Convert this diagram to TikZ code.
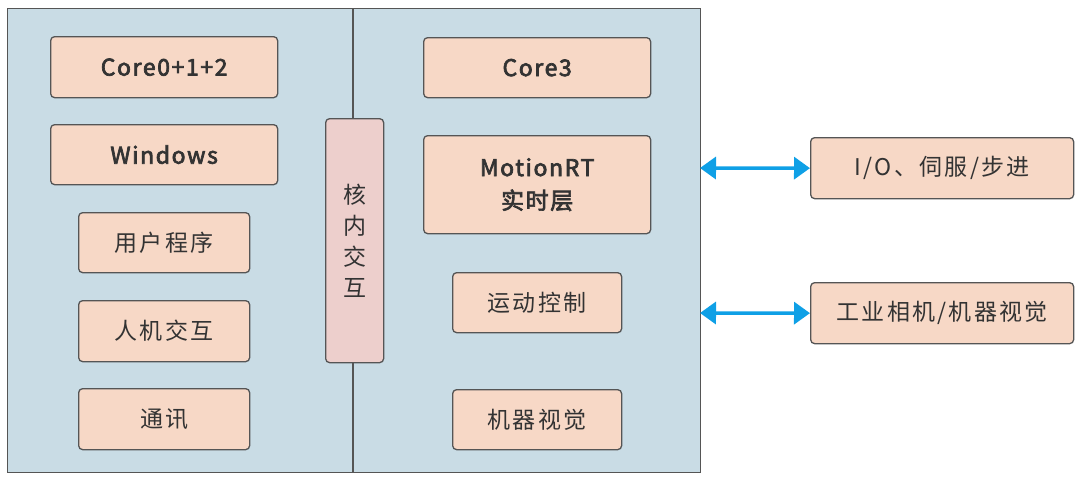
\documentclass[tikz,border=0pt]{standalone}
\usepackage{fontspec}
\setmainfont{Noto Sans CJK SC}
\usetikzlibrary{arrows.meta}
\definecolor{panel}{HTML}{C9DCE5}
\definecolor{boxfill}{HTML}{F7D8C6}
\definecolor{midfill}{HTML}{EDCFCC}
\definecolor{edge}{HTML}{555555}
\definecolor{txt}{HTML}{333333}
\definecolor{arrowblue}{HTML}{0FA0E6}
\tikzset{
  x=1pt,y=-1pt,
  blk/.style={draw=edge,line width=1.3pt,fill=boxfill,rounded corners=4pt,text=txt,font=\fontsize{23}{28}\selectfont\addfontfeatures{LetterSpace=10},align=center,inner sep=0pt},
  blkb/.style={blk,font=\fontsize{23}{33}\selectfont\addfontfeatures{LetterSpace=7,FakeBold=3}},
  link/.style={draw=arrowblue,line width=3.5pt,{Triangle[length=16pt,width=22pt]}-{Triangle[length=16pt,width=22pt]}},
}
\newcommand{\bx}[6]{\node[#1,minimum width=#4pt,minimum height=#5pt,anchor=north west] (#2) at (#3) {#6};}
\begin{document}
\begin{tikzpicture}
\useasboundingbox (0,0) rectangle (1080,480);
\node[draw=edge,line width=1.3pt,fill=panel,minimum width=693pt,minimum height=464pt,anchor=north west,inner sep=0pt] (panel) at (7,8) {};
\coordinate (divtop) at (353,8);
\coordinate (divbot) at (353,472);
\draw[edge,line width=1.3pt] (divtop) -- (divbot);
\bx{blkb}{c012}{50,36}{227}{61}{Core0+1+2}
\bx{blkb}{win}{50,124}{227}{60}{Windows}
\bx{blk}{user}{78,212}{171}{60}{用户程序}
\bx{blk}{hmi}{78,300}{171}{61}{人机交互}
\bx{blk}{comm}{78,388}{171}{61}{通讯}
\node[draw=edge,line width=1.3pt,fill=midfill,rounded corners=4pt,minimum width=58pt,minimum height=244pt,anchor=north west,inner sep=0pt,text=txt,font=\fontsize{23}{31}\selectfont,align=center] (ipc) at (325,118) {核\\内\\交\\互};
\bx{blkb}{c3}{423,37}{227}{60}{Core3}
\bx{blkb}{mrt}{423,135}{227}{98}{MotionRT\\实时层}
\bx{blk}{mc}{452,272}{169}{60}{运动控制}
\bx{blk}{mv}{452,389}{169}{60}{机器视觉}
\bx{blk}{io}{810,137}{263}{61}{I/O、伺服/步进}
\bx{blk}{cam}{810,282}{263}{61}{工业相机/机器视觉}
\coordinate (a1) at (700,168);
\coordinate (a2) at (700,313);
\draw[link] (a1) -- (io.west);
\draw[link] (a2) -- (cam.west);
\end{tikzpicture}
\end{document}
